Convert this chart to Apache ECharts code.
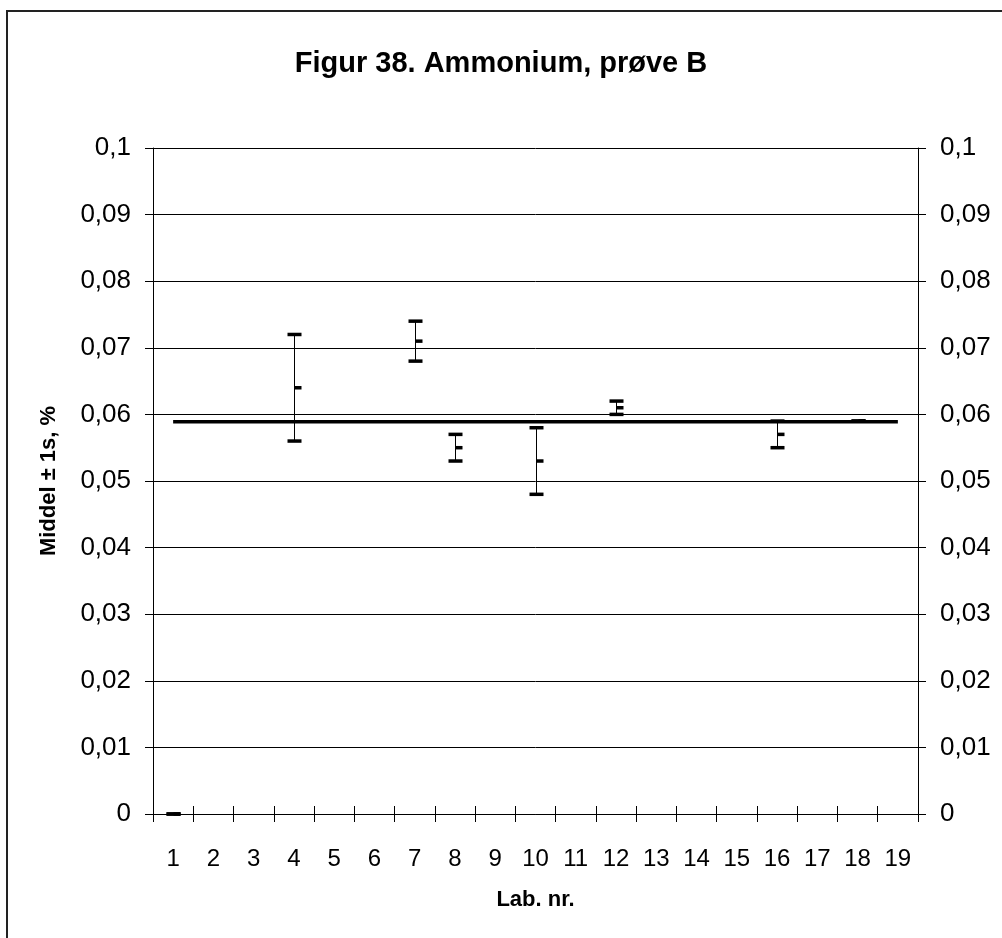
<!DOCTYPE html>
<html>
<head>
<meta charset="utf-8">
<script src="https://cdn.jsdelivr.net/npm/echarts@6/dist/echarts.min.js"></script>
<style>
html,body{margin:0;padding:0;background:#fff;}
#chart{width:1002px;height:938px;}
</style>
</head>
<body>
<div id="chart"></div>
<script>
// ---- data ----
const labs = ['1','2','3','4','5','6','7','8','9','10','11','12','13','14','15','16','17','18','19'];
const labHigh = [0, null, null, 0.072, null, null, 0.074, 0.057, null, 0.058, null, 0.062, null, null, null, 0.059, null, 0.059, null];
const labMean = [0, null, null, 0.064, null, null, 0.071, 0.055, null, 0.053, null, 0.061, null, null, null, 0.057, null, 0.059, null];
const labLow  = [0, null, null, 0.056, null, null, 0.068, 0.053, null, 0.048, null, 0.060, null, null, null, 0.055, null, 0.059, null];
const grandMean = 0.0589;
const yTicks = [0, 0.01, 0.02, 0.03, 0.04, 0.05, 0.06, 0.07, 0.08, 0.09, 0.1];

const FONT = 'Liberation Sans, Arial, sans-serif';
const barData = [];
labs.forEach((l, i) => {
  if (labMean[i] !== null) barData.push([i, labLow[i], labMean[i], labHigh[i]]);
});
const meanLine = labs.map(() => grandMean);

const fmt = v => String(+(+v).toFixed(4)).replace('.', ',');

const yBase = {
  type: 'value', min: yTicks[0], max: yTicks[yTicks.length - 1], interval: 0.01
};

const chart = echarts.init(document.getElementById('chart'), null, {renderer: 'canvas'});
chart.setOption({
  backgroundColor: '#fff',
  animation: false,
  title: {
    text: 'Figur 38. Ammonium, prøve B',
    left: 'center',
    top: 44,
    textStyle: {fontFamily: FONT, fontWeight: 'bold', fontSize: 29, color: '#000'}
  },
  graphic: [{
    type: 'rect',
    shape: {x: 7, y: 11, width: 1100, height: 1000},
    style: {fill: 'none', stroke: '#222', lineWidth: 2},
    silent: true
  }],
  grid: {left: 153, right: 84, top: 148, bottom: 124},
  xAxis: [{
    type: 'category', data: labs, position: 'bottom', boundaryGap: true,
    axisLine: {lineStyle: {color: '#000', width: 1}},
    axisTick: {show: true, length: 8, lineStyle: {color: '#000'}},
    axisLabel: {color: '#000', fontFamily: FONT, fontSize: 24, margin: 33, interval: 0},
    splitLine: {show: false},
    name: 'Lab. nr.', nameLocation: 'middle', nameGap: 75,
    nameTextStyle: {fontFamily: FONT, fontWeight: 'bold', fontSize: 22, color: '#000'}
  }, {
    type: 'category', data: labs, position: 'bottom', boundaryGap: true,
    axisLine: {show: false},
    axisTick: {show: true, inside: true, length: 8, lineStyle: {color: '#000'}},
    axisLabel: {show: false},
    splitLine: {show: false}
  }],
  yAxis: [Object.assign({}, yBase, {
    position: 'left',
    axisLine: {show: true, lineStyle: {color: '#000'}},
    axisTick: {show: true, length: 8, lineStyle: {color: '#000'}},
    axisLabel: {color: '#000', fontFamily: FONT, fontSize: 26, margin: 22, formatter: fmt},
    splitLine: {show: true, lineStyle: {color: '#000', width: 1}},
    name: 'Middel ± 1s, %', nameLocation: 'middle', nameGap: 93, nameRotate: 90,
    nameTextStyle: {fontFamily: FONT, fontWeight: 'bold', fontSize: 22, color: '#000'}
  }), Object.assign({}, yBase, {
    position: 'right',
    axisLine: {show: true, lineStyle: {color: '#000'}},
    axisTick: {show: true, length: 8, lineStyle: {color: '#000'}},
    axisLabel: {color: '#000', fontFamily: FONT, fontSize: 26, margin: 22, formatter: fmt},
    splitLine: {show: false}
  }), Object.assign({}, yBase, {
    position: 'left',
    axisLine: {show: false},
    axisTick: {show: true, inside: true, length: 7, lineStyle: {color: '#000'}},
    axisLabel: {show: false},
    splitLine: {show: false}
  }), Object.assign({}, yBase, {
    position: 'right',
    axisLine: {show: false},
    axisTick: {show: true, inside: true, length: 7, lineStyle: {color: '#000'}},
    axisLabel: {show: false},
    splitLine: {show: false}
  })],
  series: [{
    type: 'custom',
    name: 'labs',
    data: barData,
    encode: {x: 0, y: [1, 2, 3]},
    z: 3,
    renderItem: function (params, api) {
      const i = api.value(0);
      const lo = api.coord([i, api.value(1)]);
      const me = api.coord([i, api.value(2)]);
      const hi = api.coord([i, api.value(3)]);
      const x = Math.round(lo[0]) + 0.5;
      const capW = 14, capH = 3.5;
      return {
        type: 'group',
        children: [
          {type: 'line', shape: {x1: x, y1: lo[1], x2: x, y2: hi[1]}, style: {stroke: '#000', lineWidth: 1}},
          {type: 'rect', shape: {x: x - capW / 2, y: hi[1] - capH / 2, width: capW, height: capH}, style: {fill: '#000'}},
          {type: 'rect', shape: {x: x - capW / 2, y: lo[1] - capH / 2, width: capW, height: capH}, style: {fill: '#000'}},
          {type: 'rect', shape: {x: x, y: me[1] - capH / 2, width: capW / 2, height: capH}, style: {fill: '#000'}}
        ]
      };
    }
  }, {
    type: 'line',
    name: 'Middel',
    data: meanLine,
    symbol: 'none',
    z: 4,
    lineStyle: {color: '#000', width: 3.6}
  }]
});
</script>
</body>
</html>
